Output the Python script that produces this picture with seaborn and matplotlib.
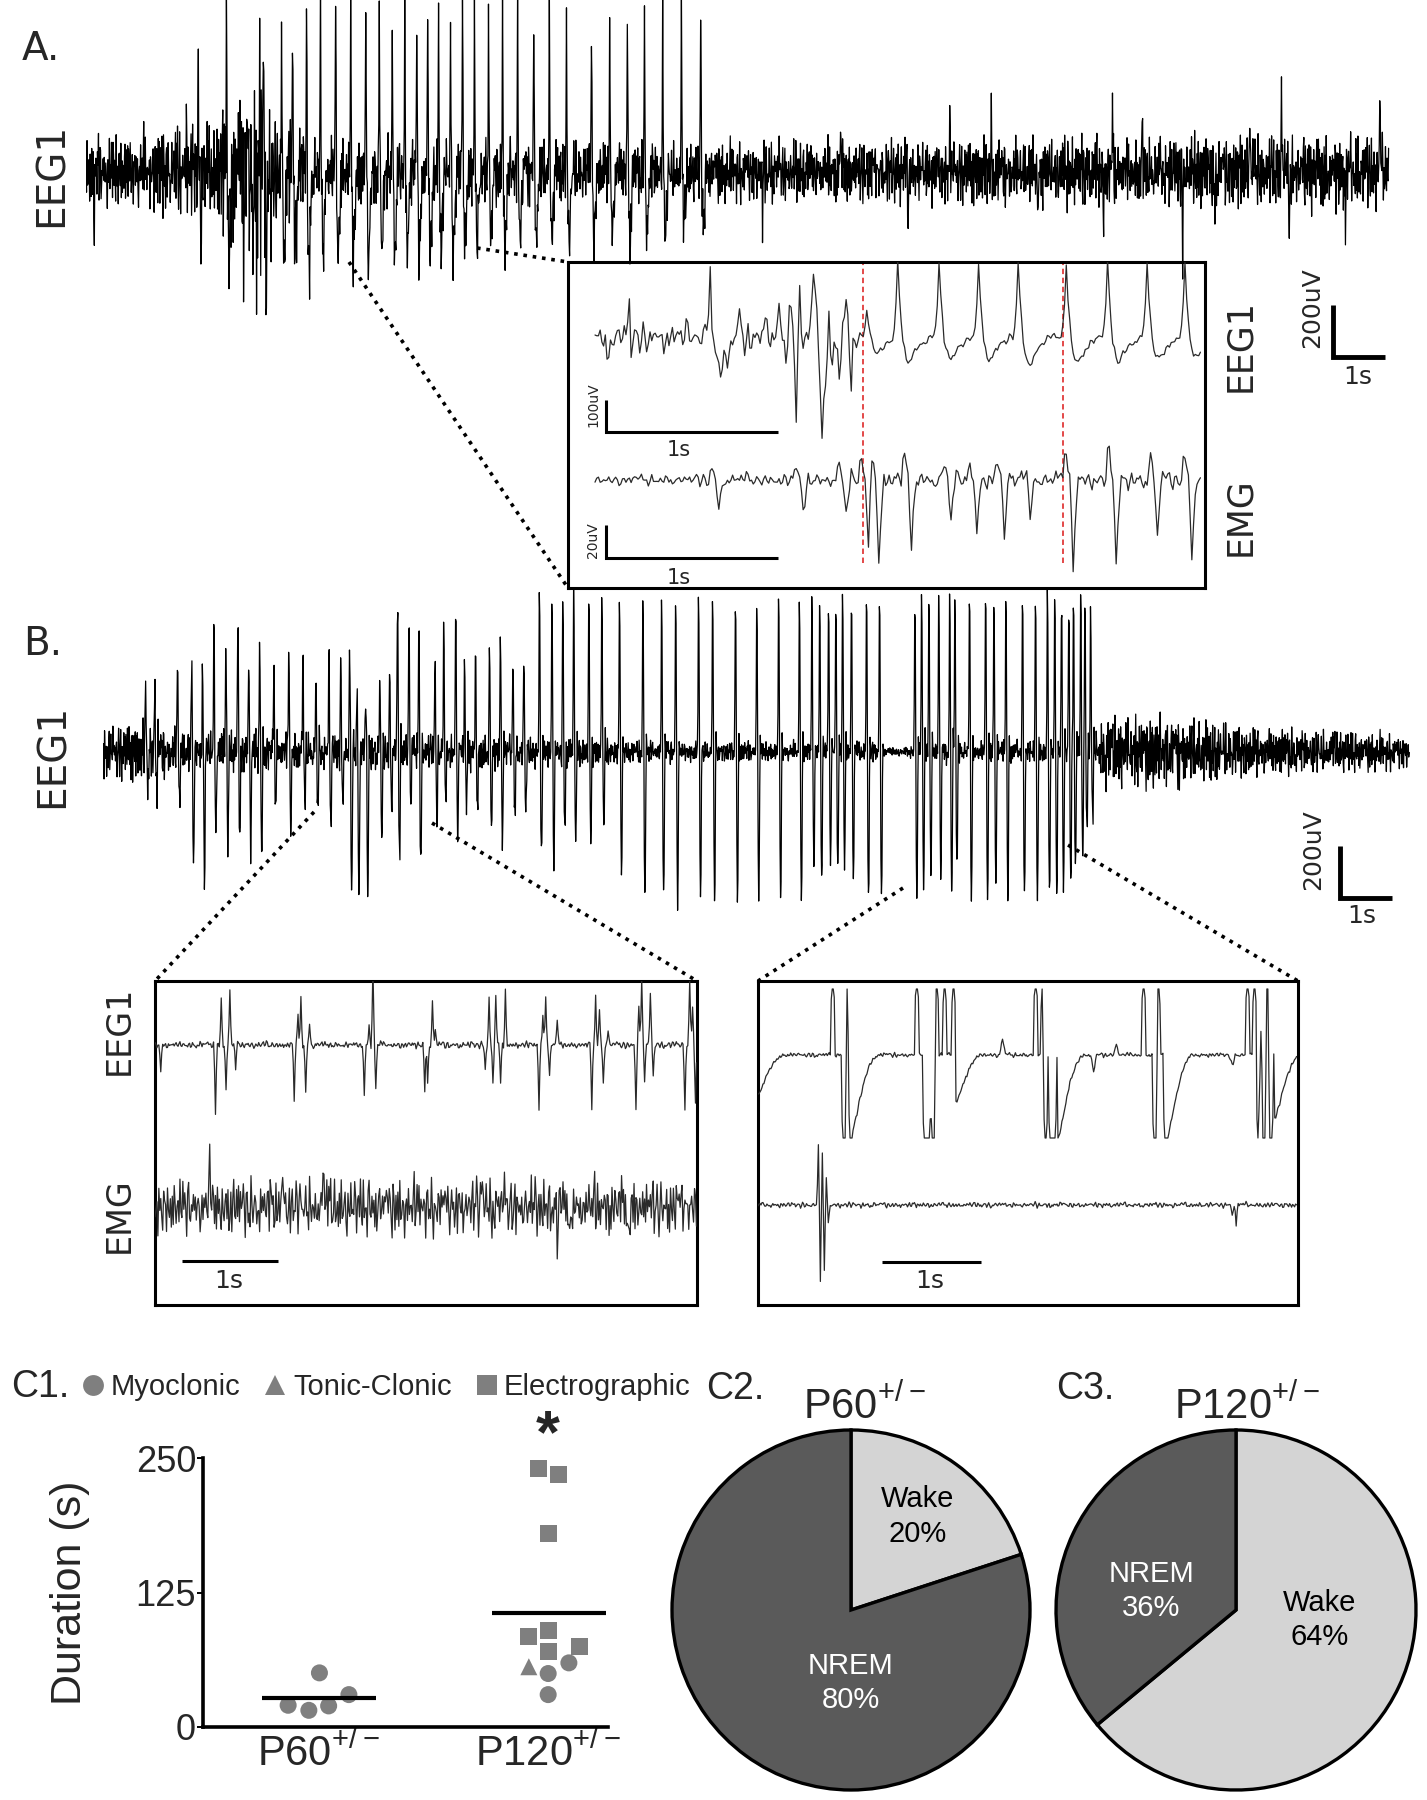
import numpy as np
import pandas as pd
import matplotlib
matplotlib.use("Agg")
import matplotlib.pyplot as plt
from matplotlib.lines import Line2D
import seaborn as sns

W, H = 1427, 1800
FS = 100  # samples per second, all traces

# hand-typed texture used for the background activity of the traces
TEX1 = [0.31, -0.52, 0.84, -0.17, -0.73, 0.45, 0.08, -0.91, 0.62, 0.19,
        -0.34, 0.71, -0.58, 0.02, 0.49, -0.83, 0.22, 0.95, -0.41, -0.09,
        0.57, -0.68, 0.33, -0.24, 0.79, -0.47, -0.29, 0.41, 0.66, -0.88,
        0.12, 0.53, -0.61, 0.26, -0.39, 0.87, -0.13, -0.77, 0.35, 0.6,
        -0.21, -0.7, 0.44, 0.05, -0.5, 0.8, -0.31]
TEX2 = [-0.44, 0.27, 0.63, -0.81, 0.14, -0.36, 0.92, -0.05, -0.67, 0.38,
        0.51, -0.22, -0.94, 0.7, 0.03, -0.48, 0.85, -0.3, 0.18, -0.62,
        0.47, 0.76, -0.86, -0.11, 0.29, -0.55, 0.68, -0.02, -0.79, 0.4,
        0.58, -0.33, 0.1, -0.71, 0.89, -0.26, -0.45, 0.21, 0.74, -0.6,
        0.07, -0.97, 0.55, 0.32, -0.18, -0.66, 0.83, -0.4, 0.15, 0.61,
        -0.85, 0.36, -0.08, -0.53, 0.72, 0.24, -0.75, 0.46, -0.15, 0.9, -0.37]

# ---------------- A. EEG1 overview (s, uV) ----------------
A_DUR = 25.06
A_ENV_T = [0, 1.5, 2.4, 2.9, 3.3, 3.7, 5.0, 8.0, 11.8, 12.5, 18.0, 22.0, 25.1]
A_ENV = [170, 220, 230, 420, 520, 250, 180, 160, 150, 150, 165, 180, 190]
A_SPIKE_T = [2.69, 3.40, 3.75, 3.96, 4.23, 4.50, 4.79, 5.08, 5.37, 5.63, 5.88,
             6.12, 6.35, 6.56, 6.77, 7.00, 7.23, 7.46, 7.73, 8.00, 8.29, 8.60,
             8.90, 9.23, 9.71, 10.06, 10.40, 10.73, 11.08, 11.44, 11.81]
A_SPIKE_UP = [623, 604, 615, 620, 623, 623, 618, 623, 620, 623, 615, 623, 620,
              623, 610, 623, 620, 623, 615, 623, 620, 623, 612, 623, 600, 585,
              623, 620, 623, 618, 623]
A_SPIKE_DOWN = [300, 250, 330, 280, 365, 300, 320, 340, 360, 300, 330, 280, 320,
                345, 300, 330, 290, 300, 270, 300, 250, 260, 240, 280, 250, 230,
                260, 240, 250, 230, 200]
A_EXTRA_T = [0.15, 1.92, 2.15, 2.20, 3.02, 3.10, 3.20, 3.27, 3.33, 3.44, 3.45,
             3.55, 13.0, 14.5, 15.8, 16.6, 17.40, 18.3, 19.56, 19.73, 20.3,
             21.08, 21.7, 22.37, 22.98, 23.13, 24.21, 24.87]
A_EXTRA_AMP = [-262, 277, 354, -385, -380, 300, -450, -600, 480, 480, -560,
               -400, -180, 190, -200, 210, 200, -190, -223, 230, 200, -300,
               -210, 265, 362, -262, -235, 296]

# ---------------- A. inset (EEG1 + EMG) ----------------
AI_DUR = 3.53
AI_ENV_T = [0, 0.6, 1.0, 1.5, 1.57, 3.6]
AI_ENV = [62, 66, 78, 88, 18, 18]
AI_SPIKE_T = [0.651, 1.25, 1.558, 1.744, 1.977, 2.209, 2.436, 2.721, 2.959, 3.186, 3.413]
AI_SPIKE_UP = [231, 228, 75, 231, 229, 231, 230, 226, 231, 229, 231]
AI_SPIKE_DOWN = [100, 130, 50, 75, 70, 72, 85, 80, 75, 72, 62]
AI_EXTRA_T = [0.064, 0.186, 0.198, 0.669, 0.831, 0.98, 1.058, 1.10, 1.12, 1.157,
              1.18, 1.308, 1.348, 1.413, 1.448, 1.48]
AI_EXTRA_AMP = [-94, 131, -119, -112, 75, 84, 100, -125, 115, -228, 115, -190,
                137, -125, 131, -147]
AI_RED_T = [1.558, 2.721]
AI_EMG_ENV_T = [0, 1.0, 1.55, 3.6]
AI_EMG_ENV = [4.5, 5.5, 8, 8]
AI_EMG_T = [0.67, 1.157, 1.413, 1.535, 1.599, 1.79, 2.02, 2.17, 2.33, 2.48, 2.73,
            2.98, 3.22, 3.42]
AI_EMG_AMP = [18, 20, 25, 38, 50, 41, 26, 32, 34, 20, 53, 53, 34, 46]

# ---------------- B. EEG1 overview ----------------
B_DUR = 25.13
B_ENV_T = [0, 0.8, 1.5, 5.0, 9.0, 10.0, 14.9, 15.1, 15.5, 15.7, 19.0, 19.3, 20.5, 22.0, 25.2]
B_ENV = [135, 150, 110, 95, 80, 55, 50, 25, 25, 55, 70, 175, 180, 130, 85]
B_SPIKE_T = [0.81, 0.98, 1.42, 1.69, 1.90, 2.12, 2.35, 2.58, 2.79, 3.00, 3.27,
             3.56, 3.83, 4.08, 4.33, 4.56, 4.73, 4.87, 5.04, 5.31, 5.50, 5.65,
             5.87, 6.06, 6.37, 6.54, 6.77, 6.94, 7.15, 7.42, 7.63, 7.87, 8.08,
             8.38, 8.62, 8.83, 9.04, 9.33, 9.58, 9.92, 10.37, 10.73, 11.00,
             11.44, 11.71, 12.15, 12.56, 12.98, 13.38, 13.62, 13.77, 13.94,
             14.08, 14.21, 14.38, 14.67, 14.92, 15.60, 15.73, 15.87, 16.06,
             16.27, 16.37, 16.65, 16.96, 17.12, 17.35, 17.67, 17.92, 18.15,
             18.29, 18.42, 18.56, 18.65, 18.79, 18.87, 18.98]
B_SPIKE_UP = [238, 246, 335, 285, 288, 469, 412, 481, 365, 404, 308, 381, 354,
              258, 365, 315, 346, 200, 200, 246, 285, 565, 519, 481, 342, 438,
              565, 308, 342, 385, 412, 342, 342, 565, 565, 565, 565, 565, 565,
              565, 565, 565, 565, 565, 565, 565, 565, 565, 565, 565, 565, 565,
              565, 565, 565, 565, 565, 565, 565, 565, 565, 565, 565, 565, 565,
              565, 565, 565, 565, 565, 565, 565, 565, 565, 565, 565, 519]
B_SPIKE_DOWN = [150, 150, 200, 435, 492, 312, 350, 350, 377, 404, 200, 292, 200,
                235, 292, 200, 558, 562, 562, 365, 200, 415, 200, 435, 262, 200,
                312, 200, 250, 312, 312, 250, 250, 427, 423, 300, 338, 327, 300,
                465, 542, 562, 562, 562, 562, 562, 562, 562, 562, 450, 500, 400,
                450, 420, 500, 562, 562, 562, 500, 450, 480, 562, 450, 562, 562,
                500, 562, 562, 562, 562, 540, 520, 500, 450, 380, 300, 250]

# ---------------- B. insets ----------------
BL_DUR = 5.65
BL_EEG_T = [0.05, 0.625, 0.677, 0.729, 0.771, 0.833, 1.4375, 1.479, 1.51, 1.5625,
            1.604, 2.167, 2.219, 2.26, 2.292, 2.802, 2.833, 2.875, 2.906, 3.427,
            3.469, 3.51, 3.542, 3.594, 3.635, 3.99, 4.031, 4.0625, 4.104, 4.177,
            4.542, 4.583, 4.615, 4.656, 4.708, 5.0, 5.031, 5.0625, 5.094, 5.146,
            5.177, 5.51, 5.5625, 5.594, 5.625]
BL_EEG_AMP = [-81, -201, 135, -129, 165, -66, -165, 90, 135, -144, 66, -156, 60,
              234, -135, -135, -114, 129, 45, -75, 144, -120, 144, -120, 165,
              -190, 90, 150, -90, 75, -190, 150, 105, -120, 45, -190, 120, 204,
              -111, 165, -90, -190, 195, 120, -170]
BL_EMG_T = [0.56, 1.32, 1.74, 3.4, 4.18, 4.31, 4.92]
BL_EMG_AMP = [105, 114, 105, 129, -105, -105, -105]

BR_DUR = 5.45
BR_UP_T = [0.737, 0.889, 1.586, 1.788, 1.869, 1.96, 2.788, 2.86, 3.879, 4.03,
           4.929, 5.0, 5.06, 5.13]
BR_UP = [280, 270, 290, 280, 270, 260, 290, 230, 280, 250, 290, 260, 270, 250]
BR_DOWN_T = [0.85, 0.91, 1.667, 1.70, 1.75, 2.88, 2.94, 2.97, 3.99, 4.10, 5.04,
             5.09, 5.16]
BR_DOWN = [330, 340, 340, 330, 320, 330, 340, 320, 340, 320, 330, 340, 320]
BR_REC_T = [0.0, 0.95, 2.0, 3.03, 4.13, 5.22]
BR_REC_DEPTH = [120, 230, 140, 249, 249, 190]
BR_BUMP_T = [2.45, 3.37, 3.6, 4.77]
BR_BUMP_AMP = [45, -45, 30, -30]
BR_EMG_T = [0.60, 0.62, 0.64, 0.66, 0.68, 0.70, 4.78, 4.82]
BR_EMG_AMP = [180, -231, 150, -200, 90, -60, -30, -60]

# ---------------- C1. seizure duration ----------------
GROUPS = ["P60", "P120"]
P60_DUR = [50.3, 20.2, 15.5, 19.6, 30.1]
P60_TYPE = ["Myoclonic", "Myoclonic", "Myoclonic", "Myoclonic", "Myoclonic"]
P60_OFF = [0.006, -0.13, -0.04, 0.046, 0.134]
P120_DUR = [239.8, 234.5, 180.0, 84.5, 90.0, 75.0, 70.0, 56.0, 59.6, 49.7, 30.1]
P120_TYPE = ["Electrographic", "Electrographic", "Electrographic", "Electrographic",
             "Electrographic", "Electrographic", "Electrographic", "Tonic-Clonic",
             "Myoclonic", "Myoclonic", "Myoclonic"]
P120_OFF = [-0.044, 0.046, 0.0, -0.086, 0.0, 0.136, 0.0, -0.084, 0.09, 0.0, 0.0]
SEIZURE_TYPES = ["Myoclonic", "Tonic-Clonic", "Electrographic"]
Y_TICKS = [0, 125, 250]

# ---------------- C2/C3. sleep state at onset ----------------
STATES = ["Wake", "NREM"]
P60_PCT = [20, 80]
P120_PCT = [64, 36]

# waveform templates (samples at FS)
SHAPE_A = [0.3, 1.0, 0.45, -0.15, -0.5, -0.85, -1.0, -0.9, -0.7, -0.5, -0.32, -0.18, -0.08]
SHAPE_B = [0.3, 1.0, 0.9, 0.1, -0.7, -1.0, -0.85, -0.2, 0.1]
SHAPE_SHARP = [0.35, 1.0, 0.35]
SHAPE_INSET = [0.15, 0.45, 1.0, 0.55, 0.25, -0.2, -0.55, -0.85, -1.0, -0.95, -0.85,
               -0.72, -0.6, -0.5, -0.42, -0.35, -0.28, -0.22, -0.16, -0.1, -0.05]
SHAPE_EMG = [0.25, 0.35, 0.2, 0.0, -0.5, -1.0, -0.55, -0.2, 0.05]
SHAPE_SQUARE = [0.6, 1.0, 1.0, 0.6]
SHAPE_DROP = [-0.6, -1.0, -1.0, -1.0, -0.6]
SHAPE_BUMP = [0.4, 0.8, 1.0, 0.8, 0.4]
SHAPE_TAIL = [-1.0, -0.97, -0.93, -0.88, -0.82, -0.76, -0.7, -0.64, -0.58, -0.52,
              -0.46, -0.41, -0.36, -0.31, -0.27, -0.23, -0.19, -0.16, -0.13, -0.1,
              -0.08, -0.06, -0.04, -0.03, -0.02, -0.01]


def make_trace(dur, env_t, env_v, k, smooth=1):
    i = np.arange(int(round(dur * FS)))
    tex = 0.6 * np.take(TEX1, (i + k) % len(TEX1)) + 0.4 * np.take(TEX2, (5 * i + 3 * k) % len(TEX2))
    if smooth > 1:
        tex = np.convolve(tex, np.ones(smooth) / smooth, mode="same") * np.sqrt(smooth)
    t = i / FS
    return t, tex * np.interp(t, env_t, env_v)


def stamp(sig, times, ups, downs, shape):
    shape = np.asarray(shape, float)
    for tt, up, dn in zip(times, ups, downs):
        seg = np.where(shape > 0, shape * up, shape * dn)
        j = np.arange(len(shape)) + int(round(tt * FS))
        ok = (j >= 0) & (j < len(sig))
        sig[j[ok]] += seg[ok]


def trace_ax(box, t0_px, base_px, px_s, px_uv, t, y, color="black", lw=0.9):
    x0, y0, x1, y1 = box
    ax = fig.add_axes([x0 / W, 1 - y1 / H, (x1 - x0) / W, (y1 - y0) / H])
    sns.lineplot(x=t, y=y, ax=ax, color=color, lw=lw, estimator=None, sort=False, errorbar=None)
    ax.set_xlim((x0 - t0_px) / px_s, (x1 - t0_px) / px_s)
    ax.set_ylim(-(y1 - base_px) / px_uv, (base_px - y0) / px_uv)
    ax.axis("off")
    ax.patch.set_visible(False)
    return ax


def frame_ax(box, t0_px, px_s):
    x0, y0, x1, y1 = box
    ax = fig.add_axes([x0 / W, 1 - y1 / H, (x1 - x0) / W, (y1 - y0) / H])
    ax.set_xlim((x0 - t0_px) / px_s, (x1 - t0_px) / px_s)
    ax.set_xticks([])
    ax.set_yticks([])
    ax.patch.set_visible(False)
    for s in ax.spines.values():
        s.set_linewidth(2.2)
        s.set_color("black")
        s.set_visible(True)
    return ax


sns.set_theme(style="white")
plt.rcParams["font.family"] = ["Liberation Sans", "DejaVu Sans"]
plt.rcParams["mathtext.fontset"] = "custom"
plt.rcParams["mathtext.rm"] = "Liberation Sans"

fig = plt.figure(figsize=(W / 100, H / 100), dpi=100)

ov = fig.add_axes([0, 0, 1, 1])
ov.set_xlim(0, W)
ov.set_ylim(H, 0)
ov.axis("off")
ov.patch.set_visible(False)
GEO = "DejaVu Sans"
bar = dict(color="black", solid_capstyle="butt", solid_joinstyle="miter")

# ---------------- panel A ----------------
t, a = make_trace(A_DUR, A_ENV_T, A_ENV, 0)
stamp(a, A_SPIKE_T, A_SPIKE_UP, A_SPIKE_DOWN, SHAPE_A)
stamp(a, A_EXTRA_T, A_EXTRA_AMP, A_EXTRA_AMP, SHAPE_SHARP)
axA = trace_ax((86, 0, 1400, 400), 86, 172, 52, 52 / 200, t, a)
axA.plot([23.98, 23.98, 24.98], [-512, -712, -712], lw=3.5, **bar)
ov.text(22, 60, "A.", fontsize=28, family=GEO, ha="left", va="baseline")
ov.text(52, 175, "EEG1", fontsize=28, family=GEO, rotation=90, ha="center", va="center")
ov.text(1312, 308, "200uV", fontsize=18, family=GEO, rotation=90, ha="center", va="center")
ov.text(1358, 377, "1s", fontsize=18, family=GEO, ha="center", va="center")

# inset A
boxAI = (568, 262, 1205, 588)
fr = frame_ax(boxAI, 595, 172)
t, e = make_trace(AI_DUR, AI_ENV_T, AI_ENV, 11, smooth=2)
stamp(e, AI_SPIKE_T, AI_SPIKE_UP, AI_SPIKE_DOWN, SHAPE_INSET)
stamp(e, AI_EXTRA_T, AI_EXTRA_AMP, AI_EXTRA_AMP, SHAPE_SHARP)
axAE = trace_ax(boxAI, 595, 337, 172, 32 / 100, t, e, color="#2a2a2a", lw=0.9)
axAE.plot([0.064, 0.064, 1.064], [-197, -297, -297], lw=2.2, **bar)
t, m = make_trace(AI_DUR, AI_EMG_ENV_T, AI_EMG_ENV, 23, smooth=2)
stamp(m, AI_EMG_T, AI_EMG_AMP, AI_EMG_AMP, SHAPE_EMG)
axAM = trace_ax(boxAI, 595, 480, 172, 33 / 20, t, m, color="#2a2a2a", lw=0.9)
axAM.plot([0.064, 0.064, 1.064], [-27.3, -47.3, -47.3], lw=2.2, **bar)
for rt in AI_RED_T:
    fr.axvline(rt, ymin=0.077, ymax=0.997, color="#e03a3a", lw=1.3, ls=(0, (3, 2)))
ov.text(593, 405, "100uV", fontsize=10, family=GEO, rotation=90, ha="center", va="center")
ov.text(679, 450, "1s", fontsize=15, family=GEO, ha="center", va="center")
ov.text(593, 540, "20uV", fontsize=10, family=GEO, rotation=90, ha="center", va="center")
ov.text(679, 578, "1s", fontsize=15, family=GEO, ha="center", va="center")
ov.text(1240, 346, "EEG1", fontsize=25, family=GEO, rotation=90, ha="center", va="center")
ov.text(1240, 517, "EMG", fontsize=25, family=GEO, rotation=90, ha="center", va="center")

dots = dict(color="black", lw=2.6, ls=(0, (1, 1.6)))
ov.plot([349, 568], [262, 588], **dots)
ov.plot([477, 568], [248, 262], **dots)

# ---------------- panel B ----------------
t, b = make_trace(B_DUR, B_ENV_T, B_ENV, 5)
stamp(b, B_SPIKE_T, B_SPIKE_UP, B_SPIKE_DOWN, SHAPE_B)
axB = trace_ax((103, 560, 1410, 940), 103, 752, 52, 52 / 200, t, b)
axB.plot([23.79, 23.79, 24.79], [-361.5, -561.5, -561.5], lw=3.5, **bar)
ov.text(23, 655, "B.", fontsize=28, family=GEO, ha="left", va="baseline")
ov.text(53, 756, "EEG1", fontsize=28, family=GEO, rotation=90, ha="center", va="center")
ov.text(1313, 850, "200uV", fontsize=18, family=GEO, rotation=90, ha="center", va="center")
ov.text(1362, 916, "1s", fontsize=18, family=GEO, ha="center", va="center")

# inset B left
boxBL = (155, 981, 697, 1305)
frame_ax(boxBL, 155, 96)
t, e = make_trace(BL_DUR, [0, BL_DUR], [15, 15], 17, smooth=2)
stamp(e, BL_EEG_T, BL_EEG_AMP, BL_EEG_AMP, SHAPE_SHARP)
trace_ax(boxBL, 155, 1045, 96, 1 / 3, t, e, color="#2a2a2a", lw=0.9)
t, m = make_trace(BL_DUR, [0, BL_DUR], [115, 115], 29)
stamp(m, BL_EMG_T, BL_EMG_AMP, BL_EMG_AMP, SHAPE_SHARP)
axBLM = trace_ax(boxBL, 155, 1207, 96, 1 / 3, t, m, color="#2a2a2a", lw=0.9)
axBLM.plot([0.28, 1.28], [-162, -162], lw=2.2, **bar)
ov.text(229, 1281, "1s", fontsize=18, family=GEO, ha="center", va="center")
ov.text(119, 1030, "EEG1", fontsize=24, family=GEO, rotation=90, ha="center", va="center")
ov.text(119, 1215, "EMG", fontsize=24, family=GEO, rotation=90, ha="center", va="center")

# inset B right
boxBR = (758, 981, 1298, 1305)
frame_ax(boxBR, 758, 99)
t, e = make_trace(BR_DUR, [0, BR_DUR], [10, 10], 31, smooth=2)
stamp(e, BR_UP_T, BR_UP, BR_UP, SHAPE_SQUARE)
stamp(e, BR_DOWN_T, BR_DOWN, BR_DOWN, SHAPE_DROP)
stamp(e, BR_REC_T, BR_REC_DEPTH, BR_REC_DEPTH, SHAPE_TAIL)
stamp(e, BR_BUMP_T, BR_BUMP_AMP, BR_BUMP_AMP, SHAPE_BUMP)
e = np.clip(e, -249, 198)
trace_ax(boxBR, 758, 1055, 99, 1 / 3, t, e, color="#2a2a2a", lw=0.9)
t, m = make_trace(BR_DUR, [0, BR_DUR], [12, 12], 41, smooth=2)
stamp(m, BR_EMG_T, BR_EMG_AMP, BR_EMG_AMP, SHAPE_SHARP)
axBRM = trace_ax(boxBR, 758, 1205, 99, 1 / 3, t, m, color="#2a2a2a", lw=0.9)
axBRM.plot([1.25, 2.25], [-171, -171], lw=2.2, **bar)
ov.text(930, 1281, "1s", fontsize=18, family=GEO, ha="center", va="center")

ov.plot([314, 155], [812, 981], **dots)
ov.plot([432, 697], [823, 981], **dots)
ov.plot([903, 758], [888, 981], **dots)
ov.plot([1068, 1298], [845, 981], **dots)

# ---------------- C1 ----------------
df = pd.DataFrame({
    "group": ["P60"] * len(P60_DUR) + ["P120"] * len(P120_DUR),
    "duration": P60_DUR + P120_DUR,
    "type": P60_TYPE + P120_TYPE,
    "offset": P60_OFF + P120_OFF,
})
df["x"] = df["group"].map({g: i for i, g in enumerate(GROUPS)}) + df["offset"]
marks = {"Myoclonic": "o", "Tonic-Clonic": "^", "Electrographic": "s"}
gray = "#7f7f7f"

axC = fig.add_axes([203 / W, 1 - 1727 / H, 405 / W, 269 / H])
sns.scatterplot(data=df, x="x", y="duration", style="type", markers=marks,
                color=gray, s=150, linewidth=0, legend=False, ax=axC, clip_on=False)
means = df.groupby("group", sort=False)["duration"].mean()
for i, g in enumerate(GROUPS):
    axC.plot([i - 0.245, i + 0.25], [means[g], means[g]], color="black", lw=3,
             solid_capstyle="butt")
axC.set_xlim(-0.5, 1.26)
axC.set_ylim(0, 250)
axC.set_yticks(Y_TICKS)
axC.set_yticklabels([str(v) for v in Y_TICKS], fontsize=26)
axC.set_xticks(range(len(GROUPS)))
axC.set_xticklabels([r"$\mathregular{%s^{+/-}}$" % g for g in GROUPS], fontsize=30)
axC.tick_params(axis="x", length=0, pad=4)
axC.tick_params(axis="y", length=4, width=1.4, pad=1, left=True, color="black")
axC.set_xlabel("")
axC.set_ylabel("Duration (s)", fontsize=31)
axC.yaxis.set_label_coords(-0.28, 0.5)
for side in ["top", "right"]:
    axC.spines[side].set_visible(False)
for side in ["left", "bottom"]:
    axC.spines[side].set_linewidth(2.6)
    axC.spines[side].set_color("black")
axC.patch.set_visible(False)
axC.text(1, 270, "*", fontsize=44, fontweight="bold", ha="center", va="center", clip_on=False)

handles = [Line2D([], [], marker=marks[k], ls="", color=gray, markersize=15, markeredgewidth=0)
           for k in SEIZURE_TYPES]
axC.legend(handles, SEIZURE_TYPES, loc="lower left", bbox_to_anchor=(80 / W, 1 - 1401 / H),
           bbox_transform=fig.transFigure, ncol=3, frameon=False, fontsize=21,
           handlelength=0.9, handletextpad=0.15, columnspacing=0.75, borderpad=0,
           borderaxespad=0)
ov.text(11, 1397, "C1.", fontsize=27, ha="left", va="baseline")

# ---------------- C2 / C3 ----------------
pie_colors = {"Wake": "#d4d4d4", "NREM": "#5a5a5a"}
text_colors = {"Wake": "black", "NREM": "white"}


def pie_panel(cx, cy, rx, ry, pct, label_pos, title, title_x, tag, tag_x):
    m = 6
    ax = fig.add_axes([(cx - rx - m) / W, 1 - (cy + ry + m) / H,
                       2 * (rx + m) / W, 2 * (ry + m) / H])
    ax.pie(pct, colors=[pie_colors[s] for s in STATES], startangle=90, counterclock=False,
           wedgeprops=dict(edgecolor="black", linewidth=2.4))
    ax.set_aspect("auto")
    ax.set_xlim(-(rx + m) / rx, (rx + m) / rx)
    ax.set_ylim(-(ry + m) / ry, (ry + m) / ry)
    for s, v, (dx, dy) in zip(STATES, pct, label_pos):
        ax.text(dx, dy, f"{s}\n{v}%", ha="center", va="center", fontsize=21,
                color=text_colors[s], linespacing=1.3)
    ov.text(title_x, 1419, r"$\mathregular{%s^{+/-}}$" % title, fontsize=30,
            ha="center", va="baseline")
    ov.text(tag_x, 1399, tag, fontsize=27, ha="left", va="baseline")


pie_panel(851, 1610, 179, 180, P60_PCT, [(0.374, 0.52), (0.0, -0.405)], "P60", 864, "C2.", 706)
pie_panel(1236, 1610, 180, 180, P120_PCT, [(0.467, -0.055), (-0.47, 0.105)], "P120", 1247, "C3.", 1056)

fig.savefig("out.png", dpi=100)
